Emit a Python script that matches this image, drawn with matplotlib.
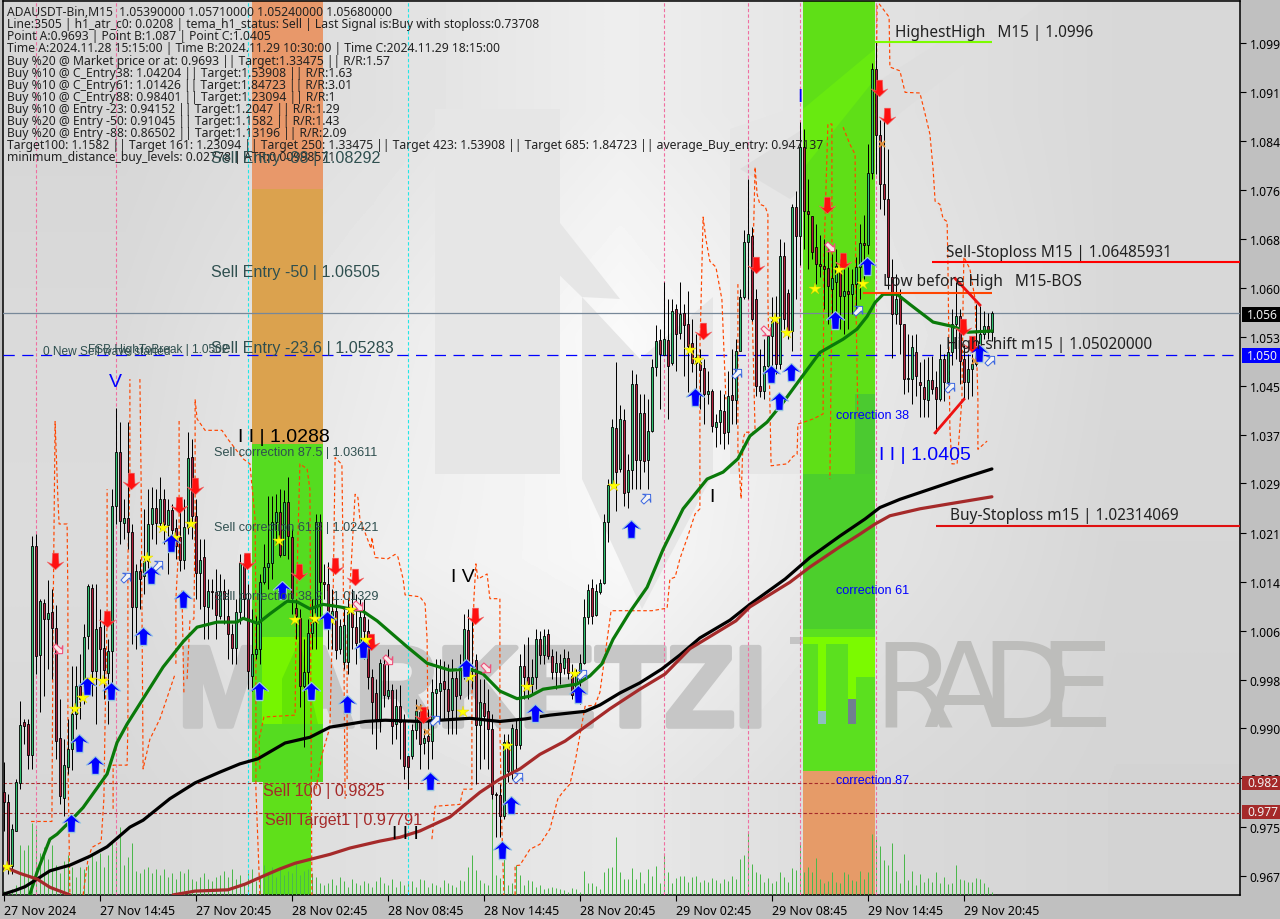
import numpy as np
import matplotlib
matplotlib.use("Agg")
import matplotlib.pyplot as plt
import matplotlib.patheffects as pe
from matplotlib.path import Path
from matplotlib.patches import Rectangle, Polygon
from matplotlib.transforms import Affine2D

closes = [.9796,.9695,.9753,.9827,.9918,.9916,.9870,1.0200,1.0026,1.0113,1.0085,1.0094,1.0071,.9892,.9805,.9854,.9879,.9935,.9979,.9959,
1.0056,1.0137,1.0003,1.0069,1.0038,1.0004,1.0034,1.0263,1.0349,1.0240,1.0245,1.0222,1.0104,1.0161,1.0148,1.0177,1.0235,1.0260,1.0237,1.0275,
1.0235,1.0257,1.0226,1.0200,1.0178,1.0230,1.0339,1.0248,1.0158,1.0178,1.0106,1.0129,1.0128,1.0091,1.0129,1.0117,1.0061,1.0039,1.0096,1.0173,
1.0117,1.0003,1.0030,1.0038,1.0143,1.0167,1.0173,1.0238,1.0254,1.0186,1.0270,1.0216,1.0118,1.0090,.9979,1.0001,1.0063,1.0080,1.0238,1.0143,
1.0140,1.0096,1.0098,1.0036,1.0074,1.0075,1.0096,1.0072,1.0047,1.0088,1.0066,.9993,.9954,.9927,1.0015,.9965,.9973,.9916,.9947,.9922,
.9853,.9851,.9910,.9940,.9887,.9897,.9892,.9970,.9974,.9984,.9974,.9940,.9992,.9963,1.0006,1.0069,1.0003,1.0006,.9918,.9954,
.9932,.9911,.9809,.9807,.9774,.9891,.9845,.9913,.9886,1.0011,.9993,.9982,.9993,1.0053,1.0028,1.0058,1.0026,1.0001,1.0015,1.0001,
1.0023,.9999,.9965,.9998,1.0015,1.0088,1.0131,1.0090,1.0129,1.0142,1.0238,1.0297,1.0388,1.0317,1.0401,1.0284,1.0320,1.0456,1.0336,1.0410,
1.0335,1.0382,1.0483,1.0524,1.0504,1.0527,1.0485,1.0572,1.0535,1.0567,1.0549,1.0516,1.0489,1.0499,1.0478,1.0440,1.0445,1.0390,1.0396,1.0415,
1.0379,1.0437,1.0431,1.0508,1.0594,1.0681,1.0693,1.0559,1.0453,1.0445,1.0485,1.0532,1.0556,1.0488,1.0658,1.0559,1.0540,1.0736,1.0690,1.0831,
1.0730,1.0725,1.0665,1.0646,1.0643,1.0638,1.0611,1.0624,1.0643,1.0595,1.0603,1.0598,1.0614,1.0641,1.0679,1.0676,1.0790,1.0954,1.0850,1.0772,
1.0748,1.0625,1.0567,1.0590,1.0551,1.0464,1.0464,1.0515,1.0469,1.0455,1.0432,1.0463,1.0448,1.0432,1.0496,1.0459,1.0507,1.0551,1.0564,1.0492,
1.0459,1.0480,1.0488,1.0511,1.0535,1.0548,1.0538,1.0568]

highs = [.9859,.9809,.9761,.9832,.9956,.9927,.9927,1.0216,1.0219,1.0117,1.0117,1.0147,1.0132,1.0107,.9959,.9895,.9927,1.0011,1.0011,1.0030,
1.0077,1.0140,1.0140,1.0140,1.0101,1.0077,1.0053,1.0290,1.0418,1.0396,1.0275,1.0396,1.0235,1.0172,1.0180,1.0259,1.0290,1.0293,1.0290,1.0309,
1.0290,1.0275,1.0267,1.0243,1.0275,1.0275,1.0380,1.0369,1.0275,1.0211,1.0211,1.0148,1.0148,1.0164,1.0156,1.0148,1.0132,1.0077,1.0117,1.0188,
1.0188,1.0140,1.0101,1.0090,1.0156,1.0203,1.0279,1.0279,1.0282,1.0290,1.0288,1.0309,1.0227,1.0117,1.0101,1.0053,1.0085,1.0117,1.0251,1.0251,
1.0172,1.0175,1.0132,1.0117,1.0085,1.0101,1.0117,1.0132,1.0124,1.0117,1.0117,1.0085,1.0006,.9990,1.0022,1.0022,1.0038,.9982,.9974,.9980,
.9935,.9868,.9919,.9959,.9951,.9911,.9943,.9990,1.0022,1.0022,1.0018,1.0014,1.0022,1.0003,1.0030,1.0093,1.0101,1.0085,1.0030,.9990,
.9990,.9974,.9935,.9812,.9824,.9903,.9903,.9919,.9927,1.0030,1.0045,1.0056,1.0022,1.0069,1.0066,1.0069,1.0069,1.0038,1.0034,1.0030,
1.0038,1.0034,1.0014,1.0006,1.0030,1.0117,1.0140,1.0148,1.0140,1.0148,1.0251,1.0306,1.0401,1.0491,1.0423,1.0417,1.0345,1.0478,1.0472,1.0440,
1.0440,1.0432,1.0496,1.0549,1.0543,1.0617,1.0590,1.0590,1.0582,1.0617,1.0582,1.0603,1.0559,1.0535,1.0511,1.0496,1.0477,1.0448,1.0409,1.0446,
1.0440,1.0477,1.0511,1.0527,1.0606,1.0700,1.0780,1.0705,1.0606,1.0511,1.0527,1.0538,1.0593,1.0595,1.0685,1.0680,1.0606,1.0740,1.0761,1.0870,
1.0859,1.0780,1.0709,1.0709,1.0691,1.0685,1.0677,1.0661,1.0669,1.0653,1.0638,1.0641,1.0638,1.0657,1.0709,1.0724,1.0835,1.0964,1.0996,1.0874,
1.0874,1.0827,1.0653,1.0630,1.0606,1.0527,1.0535,1.0533,1.0535,1.0491,1.0496,1.0499,1.0500,1.0477,1.0519,1.0503,1.0527,1.0574,1.0617,1.0574,
1.0519,1.0503,1.0503,1.0582,1.0579,1.0572,1.0569,1.0571]

lows = [.9750,.9682,.9682,.9750,.9816,.9887,.9848,.9848,.9998,.9938,.9963,1.0006,.9990,.9864,.9792,.9774,.9840,.9846,.9911,.9927,
.9951,1.0038,.9963,.9919,.9990,.9959,.9919,.9959,1.0235,1.0203,1.0211,1.0196,1.0045,1.0038,1.0101,1.0124,1.0164,1.0211,1.0203,1.0227,
1.0203,1.0156,1.0203,1.0180,1.0160,1.0164,1.0219,1.0211,1.0117,1.0101,1.0053,1.0053,1.0101,1.0053,1.0085,1.0077,1.0022,1.0014,1.0014,1.0077,
1.0085,.9974,.9971,1.0022,1.0014,1.0140,1.0132,1.0148,1.0203,1.0183,1.0186,1.0180,1.0093,1.0053,.9946,.9883,.9974,1.0038,1.0038,1.0085,
1.0117,1.0038,1.0038,1.0022,1.0030,1.0006,.9998,1.0038,1.0014,1.0038,1.0022,.9974,.9903,.9880,.9906,.9946,.9959,.9887,.9895,.9864,
.9832,.9816,.9864,.9895,.9848,.9871,.9848,.9864,.9927,.9927,.9927,.9903,.9903,.9903,.9959,.9990,.9959,.9974,.9824,.9848,
.9864,.9848,.9801,.9740,.9740,.9769,.9827,.9832,.9848,.9880,.9959,.9959,.9966,.9974,1.0014,1.0014,1.0022,.9990,.9974,.9982,
.9998,.9990,.9959,.9959,.9951,1.0014,1.0077,1.0077,1.0090,1.0124,1.0140,1.0206,1.0295,1.0255,1.0317,1.0263,1.0261,1.0290,1.0290,1.0290,
1.0317,1.0290,1.0380,1.0469,1.0417,1.0502,1.0401,1.0487,1.0477,1.0527,1.0469,1.0443,1.0475,1.0448,1.0417,1.0393,1.0424,1.0380,1.0356,1.0361,
1.0353,1.0362,1.0393,1.0393,1.0511,1.0590,1.0590,1.0555,1.0437,1.0435,1.0432,1.0464,1.0473,1.0472,1.0480,1.0543,1.0527,1.0508,1.0590,1.0645,
1.0669,1.0638,1.0653,1.0614,1.0625,1.0574,1.0551,1.0559,1.0559,1.0543,1.0535,1.0543,1.0567,1.0574,1.0590,1.0622,1.0661,1.0780,1.0788,1.0732,
1.0724,1.0606,1.0498,1.0551,1.0503,1.0440,1.0443,1.0424,1.0437,1.0404,1.0404,1.0404,1.0440,1.0378,1.0429,1.0429,1.0456,1.0487,1.0496,1.0456,
1.0432,1.0432,1.0437,1.0485,1.0496,1.0527,1.0527,1.0524]

# opens that differ from the previous close (bar: open)
open_fix = {0:.9811,1:.9796,3:.9750,4:.9826,5:.9922,6:.9919,9:1.0028,10:1.0110,12:1.0096,14:.9897,15:.9802,16:.9851,20:.9979,21:1.0058,22:1.0134,
24:1.0072,25:1.0039,26:1.0000,30:1.0237,35:1.0153,41:1.0234,43:1.0229,44:1.0214,47:1.0341,50:1.0183,51:1.0104,54:1.0090,56:1.0089,62:.9995,
72:1.0214,73:1.0102,74:1.0087,82:1.0090,84:1.0038,85:1.0017,86:1.0017,89:1.0049,93:.9968,95:1.0014,96:.9963,98:.9919,100:.9924,101:.9868,
102:.9868,104:.9938,105:.9889,106:.9900,108:.9968,109:.9971,110:.9987,112:.9941,114:.9965,116:1.0067,118:1.0020,120:.9952,121:.9940,128:.9911,
136:1.0061,140:1.0007,142:.9995,144:.9987,147:1.0134,148:1.0092,149:1.0128,153:1.0387,154:1.0322,155:1.0399,156:1.0286,161:1.0336,164:1.0526,
165:1.0502,166:1.0526,167:1.0489,168:1.0575,169:1.0537,170:1.0568,171:1.0551,172:1.0521,174:1.0491,175:1.0481,178:1.0388,180:1.0413,181:1.0380,
182:1.0439,187:1.0690,188:1.0590,196:1.0600,202:1.0722,203:1.0673,206:1.0640,207:1.0606,208:1.0617,224:1.0592,228:1.0507,229:1.0459,230:1.0452,
231:1.0431,233:1.0452,240:1.0496}

volumes = [4,4,6,10,50,45,50,72,66,42,48,36,50,30,22,34,40,28,18,28,26,30,40,34,42,
28,40,55,48,68,30,38,52,24,22,26,28,22,26,20,26,18,22,16,24,22,26,16,14,18,22,
16,14,18,20,24,18,26,16,20,12,22,26,14,18,30,22,28,18,26,20,24,22,34,20,24,26,22,18,12,10,
12,16,10,18,14,8,16,12,10,14,12,8,14,18,12,10,16,8,14,10,12,14,8,16,
15,8,12,10,8,15,12,10,8,15,14,28,40,25,15,12,10,122,20,17,45,10,12,30,20,10,15,14,8,10,6,7,8,7,6,5,3,7,6,3,
24,12,12,9,6,23,27,28,58,23,16,16,27,16,23,12,26,19,29,12,40,23,12,17,19,19,13,18,19,13,15,13,17,15,12,16,14,19,16,36,40,63,31,23,21,13,17,12,14,23,18,13,27,25,53,
23,28,23,37,16,12,14,23,13,12,23,21,15,14,24,16,23,61,59,49,35,30,52,24,12,41,15,24,10,21,13,17,13,23,12,18,11,12,30,16,15,13,13,17,16,12,8,3]

green_ma = [(6.6,.9650),(8.4,.9685),(11.6,.9737),(13.4,.9745),(16.6,.9765),(19.9,.9787),(25.9,.9840),(28.4,.9890),(30.9,.9919),(34.9,.9959),(39.9,1.0009),
(44.9,1.0049),(48.4,1.0072),(53.4,1.0080),(58.4,1.0080),(59.9,1.0086),(63.6,1.0078),(66.6,1.0093),(70.9,1.0113),(73.4,1.0112),(76.6,1.0101),(79.9,1.0108),
(84.1,1.0104),(89.9,1.0097),(93.4,1.0082),(100.9,1.0041),(105.9,1.0015),(111.6,1.0004),(116.6,1.0006),(119.9,.9998),(124.1,.9971),(128.4,.9959),(131.6,.9963),
(134.9,.9974),(143.4,.9982),(146.6,.9995),(149.6,1.0014),(152.4,1.0053),(156.6,1.0096),(160.9,1.0135),(164.9,1.0195),(169.9,1.0259),(175.9,1.0306),(179.9,1.0317),
(183.6,1.0338),(186.6,1.0374),(190.9,1.0396),(194.9,1.0427),(198.6,1.0459),(204.1,1.0506),(209.9,1.0527),(213.4,1.0543),(215.9,1.0563),(217.9,1.0585),(219.9,1.0598),
(223.4,1.0598),(226.6,1.0582),(232.4,1.0554),(237.4,1.0547),(241.1,1.0538),(247.1,1.0540)]
black_ma = [(-.1,.9650),(2.9,.9656),(5.4,.9662),(8.4,.9674),(11.6,.9687),(16.6,.9696),(21.6,.9710),(25.9,.9725),(31.6,.9756),(34.9,.9767),(41.6,.9801),(47.9,.9826),
(54.1,.9843),(59.1,.9856),(63.6,.9864),(70.4,.9889),(76.6,.9898),(81.6,.9914),(90.4,.9923),(95.4,.9925),(104.1,.9923),(116.6,.9928),(124.1,.9923),(130.4,.9927),
(136.6,.9933),(145.4,.9939),(149.1,.9949),(154.1,.9968),(159.1,.9984),(164.6,1.0006),(169.1,1.0028),(174.1,1.0055),(181.6,1.0083),(186.6,1.0108),(195.4,1.0148),
(201.6,1.0182),(209.1,1.0216),(215.4,1.0243),(219.1,1.0261),(224.1,1.0274),(231.6,1.0290),(239.1,1.0306),(247.1,1.0322)]
brown_ma_a = [(-.1,.9694),(4.1,.9683),(8.4,.9674),(11.6,.9661),(16.6,.9649)]
brown_ma_b = [(42.4,.9649),(47.9,.9655),(56.1,.9657),(60.4,.9666),(65.4,.9680),(69.1,.9690),(72.9,.9699),(76.6,.9705),(81.6,.9713),(86.6,.9723),(94.1,.9734),(99.1,.9740),
(104.1,.9750),(111.6,.9772),(119.1,.9811),(124.1,.9832),(129.1,.9848),(134.1,.9871),(140.4,.9892),(146.6,.9920),(151.6,.9943),(159.1,.9974),(165.4,.9998),(171.6,1.0038),
(183.1,1.0082),(186.6,1.0104),(196.6,1.0143),(201.6,1.0167),(209.1,1.0199),(214.1,1.0219),(217.9,1.0235),(221.6,1.0248),(229.1,1.0259),(236.6,1.0267),(247.1,1.0278)]

trails = [
[(6.9,.9765),(12.1,.9765),(12.4,1.0085),(12.9,1.0397),(13.6,1.0275),(13.9,1.0235),(15.9,1.0235),(16.1,1.0117),(16.1,.9864),(16.6,.9649)],
[(19.9,.9649),(21.1,.9705),(22.1,.9724),(24.4,.9732),(25.1,.9801),(25.4,.9927),(25.9,1.0085),(25.9,1.0290)],
[(27.4,.9785),(27.4,.9854),(30.9,.9854),(31.1,.9919),(31.1,1.0180),(31.6,1.0306),(31.6,1.0464)],
[(34.1,1.0464),(34.4,1.0306),(34.6,1.0117),(34.9,.9848),(36.6,.9895),(39.1,.9927),(42.9,.9998)],
[(43.1,1.0014),(43.1,1.0117),(43.9,1.0211),(43.9,1.0401)],
[(45.1,.9969),(44.6,1.0132)],
[(45.9,.9990),(46.6,1.0082),(47.6,1.0085),(47.9,1.0243),(47.9,1.0432),(48.4,1.0401),(50.4,1.0383),(54.6,1.0383),(56.1,1.0369),(59.9,1.0338),(61.6,1.0330),(62.9,1.0243),(63.1,1.0085),(63.1,.9816),(64.1,.9649)],
[(64.1,.9848),(63.9,.9895),(65.1,.9930),(72.9,.9933),(73.1,1.0053),(73.6,1.0211),(74.1,1.0330),(75.9,1.0322),(76.6,1.0290),(77.1,.9649)],
[(78.1,.9816),(79.6,.9870),(81.6,.9914),(82.4,1.0117),(82.9,1.0340),(84.6,1.0329),(84.9,1.0180),(85.4,.9801)],
[(85.9,.9832),(85.9,1.0053),(87.9,1.0282),(88.6,1.0277),(89.1,1.0243),(91.9,1.0196),(92.1,1.0214),(92.9,1.0182),(96.1,1.0180),(97.9,1.0187),(98.6,1.0183),(99.9,1.0148),(100.4,1.0123),(104.1,1.0120),(105.4,1.0109),(105.9,1.0053),(106.1,.9927)],
[(107.1,.9737),(107.9,.9789),(114.1,.9792),(114.9,.9816),(117.1,.9816),(117.1,.9959),(117.6,1.0117),(118.1,1.0172),(118.6,1.0148),(120.9,1.0156),(121.6,1.0117),(124.1,1.0117),(124.1,.9911),(124.6,.9753),(125.1,.9649)],
[(127.9,.9649),(127.9,.9695),(129.1,.9696),(131.6,.9721),(134.1,.9729),(136.6,.9753),(138.6,.9801),(139.9,.9812),(141.6,.9824),(142.9,.9859),(145.4,.9947),(147.9,.9949),(149.1,.9969),(150.6,1.0038),(151.9,1.0098),(162.1,1.0098),(165.9,1.0102),(166.6,1.0148),(167.9,1.0151),(169.1,1.0180),(171.1,1.0216),(172.9,1.0251),(174.1,1.0259),(174.1,1.0511),(174.9,1.0720),(175.6,1.0685),(176.6,1.0650),(178.1,1.0641),(179.6,1.0590),(180.6,1.0432)],
[(183.6,1.0614),(183.6,1.0353),(184.4,1.0275),(184.9,1.0369),(185.4,1.0380),(187.9,1.0380),(187.1,1.0590),(187.9,1.0799),(188.4,1.0756),(189.1,1.0740),(190.4,1.0737),(191.1,1.0724),(191.1,1.0590),(191.9,1.0327),(195.9,1.0330),(197.4,1.0342),(198.4,1.0345),(198.6,1.0393),(200.1,1.0396),(202.4,1.0401),(204.9,1.0409),(205.1,1.0654),(206.1,1.0867),(207.1,1.0867),(207.1,1.0590),(206.6,1.0306)],
[(209.9,1.0862),(211.6,1.0835),(212.9,1.0819),(213.1,1.0590),(213.6,1.0401)],
[(218.1,1.0874),(218.4,1.1057)],
[(218.9,1.1057),(221.4,1.1036),(221.6,1.0957),(224.1,1.0951),(225.4,1.0917),(229.1,1.0916),(230.4,1.0883),(231.6,1.0851),(232.4,1.0796),(232.9,1.0745),(234.1,1.0740),(234.9,1.0717),(235.9,1.0713),(236.1,1.0650),(236.6,1.0385),(237.1,1.0330),(238.4,1.0330),(239.6,1.0432),(239.9,1.0590),(240.1,1.0657),(241.6,1.0638),(242.9,1.0590),(243.6,1.0432),(243.6,1.0353),(245.9,1.0366)],
]

buy_arrows = [(16.9,.9762),(22.9,.9854),(18.9,.9889),(20.9,.9979),(26.9,.9971),(34.9,1.0058),(36.9,1.0154),(41.9,1.0205),(44.9,1.0117),(63.9,.9971),(76.9,.9971),(69.6,1.0130),
(85.9,.9950),(89.9,1.0037),(80.9,1.0083),(106.6,.9829),(115.6,1.0007),(132.9,.9936),(143.6,.9966),(126.9,.9791),(124.6,.9720),(156.9,1.0227),(172.9,1.0435),(191.9,1.0472),
(193.9,1.0429),(196.9,1.0475),(207.9,1.0557),(215.9,1.0642),(243.9,1.0505)]
sell_arrows = [(12.9,1.0176),(31.9,1.0303),(25.9,1.0085),(43.9,1.0265),(47.9,1.0295),(60.9,1.0176),(73.9,1.0159),(82.9,1.0168),(87.9,1.0151),(91.9,1.0049),(104.9,.9933),(117.9,1.0089),
(174.9,1.0540),(188.1,1.0644),(205.9,1.0739),(209.9,1.0650),(218.9,1.0924),(220.9,1.0879),(239.9,1.0546),(242.1,1.0519)]
stars = [(.9,.9693),(17.9,.9943),(19.9,.9960),(21.9,.9988),(24.9,.9987),(35.9,1.0181),(39.9,1.0228),(42.9,1.0213),(46.9,1.0235),(68.9,1.0208),(72.9,1.0083),(77.9,1.0085),(81.9,1.0083),
(86.9,1.0099),(90.6,1.0052),(114.9,.9938),(116.6,.9993),(125.9,.9884),(130.9,.9977),(142.9,.9998),(152.6,1.0295),(171.6,1.0510),(173.6,1.0494),(192.9,1.0559),(195.9,1.0537),(202.9,1.0606),(208.9,1.0636),(214.9,1.0614)]
hollow_up = [(30.6,1.0151),(38.6,1.0170),(160.6,1.0276),(128.6,.9835),(107.9,.9925),(144.6,.9998),(183.4,1.0473),(213.6,1.0573),(236.6,1.0451),(246.6,1.0494)]
hollow_down = [(13.6,1.0037),(96.1,1.0020),(88.6,1.0105),(120.6,1.0007),(190.6,1.0540),(206.6,1.0672)]
cross_marks = [(103.9,.9945),(105.9,.9906),(219.6,1.0835),(242.9,1.0492)]

price_ticks = [1.0995,1.0918,1.0840,1.0763,1.0686,1.0608,1.0531,1.0453,1.0376,1.0299,1.0221,1.0144,1.0066,.9989,.9912,.9834,.9757,.9679]
price_labels = ["1.099","1.091","1.084","1.076","1.068","1.060","1.053","1.045","1.037","1.029","1.021","1.014","1.006","0.998","0.990","0.982","0.975","0.967"]
time_ticks = [0,24,48,72,96,120,144,168,192,216,240]
time_labels = ["27 Nov 2024","27 Nov 14:45","27 Nov 20:45","28 Nov 02:45","28 Nov 08:45","28 Nov 14:45","28 Nov 20:45","29 Nov 02:45","29 Nov 08:45","29 Nov 14:45","29 Nov 20:45"]

info_lines = ["ADAUSDT-Bin,M15  1.05390000 1.05710000 1.05240000 1.05680000",
"Line:3505 | h1_atr_c0: 0.0208 | tema_h1_status: Sell | Last Signal is:Buy with stoploss:0.73708",
"Point A:0.9693 | Point B:1.087 | Point C:1.0405",
"Time A:2024.11.28 15:15:00 | Time B:2024.11.29 10:30:00 | Time C:2024.11.29 18:15:00",
"Buy %20 @ Market price or at: 0.9693 || Target:1.33475 || R/R:1.57",
"Buy %10 @ C_Entry38: 1.04204 || Target:1.53908 || R/R:1.63",
"Buy %10 @ C_Entry61: 1.01426 || Target:1.84723 || R/R:3.01",
"Buy %10 @ C_Entry88: 0.98401 || Target:1.23094 || R/R:1",
"Buy %10 @ Entry -23: 0.94152 || Target:1.2047 || R/R:1.29",
"Buy %20 @ Entry -50: 0.91045 || Target:1.1582 || R/R:1.43",
"Buy %20 @ Entry -88: 0.86502 || Target:1.13196 || R/R:2.09",
"Target100: 1.1582 || Target 161: 1.23094 || Target 250: 1.33475 || Target 423: 1.53908 || Target 685: 1.84723 || average_Buy_entry: 0.947137",
"minimum_distance_buy_levels: 0.02778 | ATR:0.00998571"]

W, H = 1280, 920
FONT = "Noto Sans"
ARIAL = "Liberation Sans"
plt.rcParams["font.family"] = [FONT, "DejaVu Sans"]
fig = plt.figure(figsize=(W/100, H/100), dpi=100, facecolor="#c0c0c0")
L, R, T_, B = 3, 1240, 2, 896
ax = fig.add_axes([L/W, 1-B/H, (R-L)/W, (B-T_)/H])
P0, K = 1.10645, 0.000158     # price at chart top reference, price per pixel
BAR0, BARW = 3.5, 4.0
ymin, ymax = P0-K*B, P0-K*T_
xmin, xmax = (L-BAR0)/BARW, (R-BAR0)/BARW

# background gradient
grad = np.array([[0xd6,0xe0,0xee,0xe2,0xd8],[0xda,0xea,0xfa,0xe8,0xd8],[0xdc,0xee,0xf8,0xe4,0xd6],[0xd8,0xe0,0xe8,0xda,0xd4]])
ax.imshow(grad, cmap="gray", vmin=0, vmax=255, extent=(xmin,xmax,ymin,ymax), aspect="auto", interpolation="bilinear", zorder=0)

def px(x): return (x-BAR0)/BARW
def py(y): return P0-K*y
def poly(pts, color, z=1, **kw):
    ax.add_patch(Polygon([(px(a),py(b)) for a,b in pts], closed=True, facecolor=color, edgecolor="none", zorder=z, **kw))

# logo watermark shapes
wm = "#e6e6e6"
poly([(435,110),(560,110),(560,475),(435,475)], wm)
poly([(582,298),(582,480),(642,610),(713,475),(713,298),(640,360)], wm)
poly([(730,130),(790,110),(800,110),(800,475),(730,475)], wm)
poly([(430,150),(470,110),(620,300),(582,298)], wm)
poly([(740,170),(1000,5),(1040,5),(790,200)], "#dedede")
poly([(790,638),(803,638),(803,645),(790,645)], "#c4c4c4")

wm_text = "#c6c6c6"
ax.text(px(178), py(727), "MARKETZI", fontsize=82, fontweight="bold", family=ARIAL, color=wm_text, va="baseline", ha="left", zorder=1.5,
        path_effects=[pe.withStroke(linewidth=4, foreground=wm_text)])
for ch, xx in zip("RADE", [873, 923, 980, 1038]):
    ax.text(px(xx), py(727), ch, fontsize=85, family="Liberation Sans Narrow", color="#bdbdbb", va="baseline", ha="left", zorder=1.5)

# coloured zones
def band(x0, x1, y0, y1, color, z=2):
    ax.add_patch(Rectangle((px(x0), py(y1)), px(x1)-px(x0), py(y0)-py(y1), facecolor=color, edgecolor="none", zorder=z))
band(252,323,2,190,"#e8986a")
band(252,323,190,445,"#dba24e")
band(252,323,445,783,"#55dc20")
band(263,311,783,896,"#5fe01a")
band(262,323,638,725,"#76f500",2.1)
poly([(282,725),(282,680),(300,640),(312,700),(318,725)], "#63e505", 2.2)
band(803,875,2,475,"#5fdf17")
poly([(803,110),(875,50),(875,80),(803,170)], "#68ea10", 2.1)
band(855,875,395,475,"#4bca30",2.1)
band(803,875,475,630,"#4ccf2c")
band(803,875,630,772,"#5be01f")
band(803,875,772,896,"#e69b68")
band(803,875,638,645,"#7bfa00",2.1)
band(818,826,638,712,"#7bfa00",2.1)
band(818,826,712,725,"#8fbfbf",2.2)
band(848,856,645,700,"#7bfa00",2.1)
band(848,856,700,725,"#708090",2.2)
band(856,875,645,678,"#7bfa00",2.1)

bars = np.arange(len(closes))
closes_a, highs_a, lows_a = np.array(closes), np.array(highs), np.array(lows)
opens = np.r_[closes_a[0], closes_a[:-1]]
for k, v in open_fix.items():
    opens[k] = v
vol_scale = K
ax.vlines(bars, ymin, ymin+np.array(volumes)*vol_scale, color="#4cb84c", lw=0.72, zorder=3)

for b in [61, 101]:
    ax.axvline(b, color="#22e6e6", lw=0.8, ls=(0,(3,2)), zorder=3.5)
for b in [8, 28, 165, 186, 199, 218]:
    ax.axvline(b, color="#f06ea0", lw=0.8, ls=(0,(3,2)), zorder=3.5)

ax.axhline(1.0568, color="#778899", lw=0.9, zorder=4)
ax.axhline(1.0502, color="#0000ff", lw=0.9, ls=(0,(9,6)), zorder=4)
for p in [0.9825, 0.97791]:
    ax.axhline(p, color="#a52a2a", lw=0.8, ls=(0,(3,2)), zorder=4)

for t in trails:
    a = np.array(t)
    ax.plot(a[:,0], a[:,1], color="#ff4500", lw=0.85, ls=(0,(3,2.2)), zorder=4.5)

up = closes_a >= opens
body_lo, body_hi = np.minimum(opens,closes_a), np.maximum(opens,closes_a)
ax.vlines(bars, lows_a, highs_a, color="black", lw=0.72, zorder=6)
ax.bar(bars, np.maximum(body_hi-body_lo, K), bottom=body_lo, width=0.5,
       color=["#2fc070" if u else "#b0203c" for u in up], edgecolor="black", linewidth=0.6, zorder=6.1)

for name, c in [(green_ma,"#0a7a0a"), (black_ma,"black"), (brown_ma_a,"#a52a2a"), (brown_ma_b,"#a52a2a")]:
    a = np.array(name)
    ax.plot(a[:,0], a[:,1], color=c, lw=2.3, zorder=7, solid_capstyle="round")

ax.hlines(1.06485931, px(932), xmax, color="#ff0000", lw=1.5, zorder=7.2)
ax.hlines(1.02314069, px(936), xmax, color="#e01010", lw=1.5, zorder=7.2)
ax.hlines(1.0600, px(863), px(992), color="#ff4500", lw=1.5, zorder=7.2)
ax.hlines(1.0996, px(875), px(992), color="#7cfc00", lw=1.5, zorder=7.2)
ax.plot([232.9,240.1],[1.0379,1.0432], color="#ee1111", lw=2, zorder=7.2)
ax.plot([237.9,244.1],[1.0623,1.0581], color="#ee1111", lw=2, zorder=7.2)

arrow = Path([(0,1),(1,0.05),(0.42,0.3),(0.36,-1),(-0.36,-1),(-0.42,0.3),(-1,0.05),(0,1)], closed=False)
down = arrow.transformed(Affine2D().scale(1,-1))
diag_up = arrow.transformed(Affine2D().rotate_deg(-45))
diag_dn = arrow.transformed(Affine2D().rotate_deg(-135))
a = np.array(buy_arrows)
ax.plot(a[:,0], a[:,1], ls="", marker=arrow, ms=13, mfc="#9ac7e0", mec="#9ac7e0", mew=1, zorder=8)
ax.plot(a[:,0], a[:,1], ls="", marker=arrow, ms=12, mfc="#0000ff", mec="none", zorder=8.1)
a = np.array(sell_arrows)
ax.plot(a[:,0], a[:,1], ls="", marker=down, ms=12, mfc="#ff1010", mec="#f06a6a", mew=0.4, zorder=8)
a = np.array(stars)
ax.plot(a[:,0], a[:,1], ls="", marker="*", ms=9, mfc="#ffff00", mec="#e0d000", mew=0.3, zorder=8)
a = np.array(hollow_up)
ax.plot(a[:,0], a[:,1], ls="", marker=diag_up, ms=8, mfc="#f4f4f4", mec="#3a66e0", mew=0.7, zorder=8)
a = np.array(hollow_down)
ax.plot(a[:,0], a[:,1], ls="", marker=diag_dn, ms=8, mfc="#f8e8e8", mec="#f0507a", mew=0.8, zorder=8)
a = np.array(cross_marks)
ax.plot(a[:,0], a[:,1], ls="", marker="x", ms=5, mec="#e0903c", mew=1.3, zorder=8)

ax.set_xlim(xmin, xmax)
ax.set_ylim(ymin, ymax)
ax.yaxis.tick_right()
ax.set_yticks(price_ticks)
ax.set_yticklabels(price_labels)
ax.set_xticks(time_ticks)
ax.set_xticklabels(time_labels, ha="left")
ax.tick_params(axis="y", length=4, width=0.8, labelsize=8.7, pad=3, color="black", labelcolor="black")
ax.tick_params(axis="x", length=4, width=0.8, labelsize=8.9, pad=2.5, color="black", labelcolor="black")
for s in ax.spines.values():
    s.set_linewidth(1.1)
    s.set_color("black")

def T(x, y, s, size=9, color="black", **kw):
    fig.text(x/W, 1-y/H, s, fontsize=size, color=color, va="center", ha=kw.pop("ha","left"), zorder=20, **kw)

for i, line in enumerate(info_lines):
    T(7, 12.6+12.1*i, line, size=8.75, color="#222222")

slate = "#2f4f4f"
T(211,158,"Sell Entry -88 | 1.08292",11.6,slate,family=ARIAL)
T(211,272,"Sell Entry -50 | 1.06505",11.6,slate,family=ARIAL)
T(211,349,"Sell Entry -23.6 | 1.05283",11.6,slate,family=ARIAL)
T(88,350,"FSB HighToBreak | 1.0502",8.6,slate,family=ARIAL)
T(43,352,"0 New Sell wave started",8.6,slate,family=ARIAL)
T(238,438,"I I | 1.0288",14,"black",family=ARIAL)
T(214,453,"Sell correction 87.5 | 1.03611",9.1,slate,family=ARIAL)
T(214,528,"Sell correction 61.8 | 1.02421",9.1,slate,family=ARIAL)
T(214,597,"Sell correction 38.2 | 1.01329",9.1,slate,family=ARIAL)
T(263,792,"Sell 100 | 0.9825",11.6,"#a52a2a",family=ARIAL)
T(265,821,"Sell Target1 | 0.97791",11.6,"#a52a2a",family=ARIAL)
T(109,383,"V",14,"#0000ff",family=ARIAL)
T(451,577,"I V",14,"black",family=ARIAL)
T(392,835,"I I I",14,"black",family=ARIAL)
T(709,497,"I",14,"black",family=ARIAL)
T(797,97,"I",14,"#0000ff",family=ARIAL)
T(895,33,"HighestHigh   M15 | 1.0996",11.1,"#222222")
T(946,253,"Sell-Stoploss M15 | 1.06485931",11.1,"#222222")
T(883,282,"Low before High   M15-BOS",11.1,"#222222")
T(946,345,"High-shift m15 | 1.05020000",11.1,"#222222")
T(950,516,"Buy-Stoploss m15 | 1.02314069",11.1,"#222222")
T(879,456,"I I | 1.0405",14,"#0000ff",family=ARIAL)
T(836,416,"correction 38",9.1,"#0000ff",family=ARIAL)
T(836,591,"correction 61",9.1,"#0000ff",family=ARIAL)
T(836,781,"correction 87",9.1,"#0000ff",family=ARIAL)

for y0, y1, col, s in [(308,323,"#000000","1.056"),(349,364,"#0000ff","1.050"),(777,791,"#a52a2a","0.982"),(806,820,"#a52a2a","0.977")]:
    fig.add_artist(Rectangle((1242/W, 1-y1/H), (W-1242)/W, (y1-y0)/H, transform=fig.transFigure, facecolor=col, edgecolor="none", zorder=19))
    T(1247, (y0+y1)/2, s, 8.7, "#f0f0f0")

fig.savefig("out.png", dpi=100, facecolor=fig.get_facecolor())
